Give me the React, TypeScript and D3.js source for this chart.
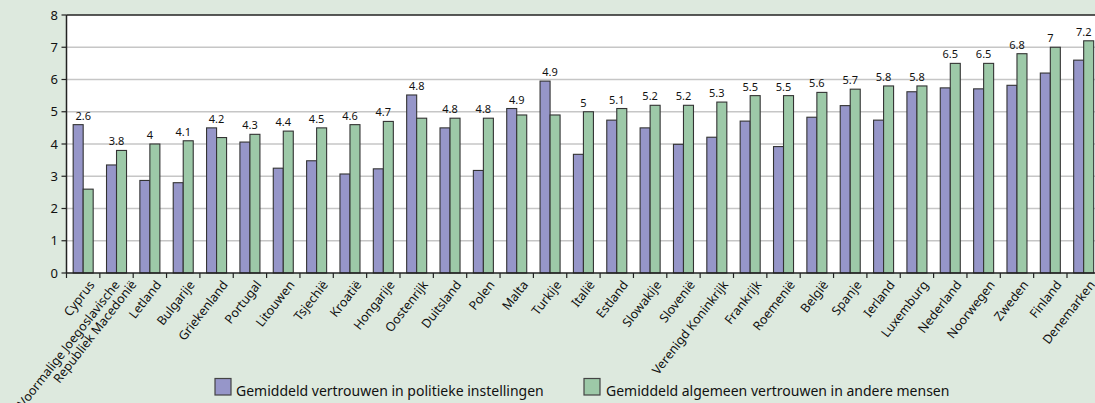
import React from "react";
import * as d3 from "d3";

const categories: string[][] = [
  ["Cyprus"],
  ["Voormalige Joegoslavische", "Republiek Macedonië"],
  ["Letland"],
  ["Bulgarije"],
  ["Griekenland"],
  ["Portugal"],
  ["Litouwen"],
  ["Tsjechië"],
  ["Kroatië"],
  ["Hongarije"],
  ["Oostenrijk"],
  ["Duitsland"],
  ["Polen"],
  ["Malta"],
  ["Turkije"],
  ["Italië"],
  ["Estland"],
  ["Slowakije"],
  ["Slovenië"],
  ["Verenigd Koninkrijk"],
  ["Frankrijk"],
  ["Roemenië"],
  ["België"],
  ["Spanje"],
  ["Ierland"],
  ["Luxemburg"],
  ["Nederland"],
  ["Noorwegen"],
  ["Zweden"],
  ["Finland"],
  ["Denemarken"],
];

const politiek: number[] = [
  4.6, 3.35, 2.87, 2.8, 4.5, 4.06, 3.25, 3.48, 3.07, 3.23, 5.52, 4.5, 3.18, 5.1,
  5.95, 3.68, 4.74, 4.5, 3.99, 4.21, 4.71, 3.92, 4.83, 5.19, 4.74, 5.62, 5.74,
  5.71, 5.82, 6.2, 6.6,
];

const anderen: number[] = [
  2.6, 3.8, 4, 4.1, 4.2, 4.3, 4.4, 4.5, 4.6, 4.7, 4.8, 4.8, 4.8, 4.9, 4.9, 5,
  5.1, 5.2, 5.2, 5.3, 5.5, 5.5, 5.6, 5.7, 5.8, 5.8, 6.5, 6.5, 6.8, 7, 7.2,
];

const yTicks: number[] = [0, 1, 2, 3, 4, 5, 6, 7, 8];

const legendLabels: string[] = [
  "Gemiddeld vertrouwen in politieke instellingen",
  "Gemiddeld algemeen vertrouwen in andere mensen",
];

const W = 1095;
const H = 403;
const FONT = "'Noto Sans', 'Open Sans', sans-serif";
const PURPLE = "#9696c9";
const GREEN = "#9dc9a8";
const BG = "#dde9de";

export default function App() {
  const left = 66.5;
  const top = 15;
  const bottom = 273;
  const keys = categories.map((c) => c.join(" "));
  const x = d3
    .scaleBand<string>()
    .domain(keys)
    .range([left, left + 31 * 33.35])
    .padding(0);
  const y = d3.scaleLinear().domain([0, 8]).range([bottom, top]);
  const bw = x.bandwidth();
  const barW = bw * 0.3;

  return (
    <svg
      width={W}
      height={H}
      style={{ position: "absolute", left: 0, top: 0, display: "block" }}
      fontFamily={FONT}
    >
      <rect x={0} y={0} width={W} height={H} fill={BG} />
      <rect x={left} y={top} width={W - left} height={bottom - top} fill="#fff" />
      {yTicks.map((t) => (
        <g key={t}>
          {t > 0 && t < 8 && (
            <line x1={left} x2={W} y1={y(t)} y2={y(t)} stroke="#c6c6c6" strokeWidth={1.5} />
          )}
          <line x1={left - 5} x2={left} y1={y(t)} y2={y(t)} stroke="#222" strokeWidth={1.2} />
          <text x={left - 8.5} y={y(t)} dy="0.36em" textAnchor="end" fontSize={13} fill="#111">
            {t}
          </text>
        </g>
      ))}
      <line x1={left} x2={W} y1={top} y2={top} stroke="#222" strokeWidth={1.5} />
      {keys.map((k, i) => {
        const x0 = x(k)!;
        const pv = politiek[i];
        const gv = anderen[i];
        const mx = Math.max(pv, gv);
        const cx = x0 + bw / 2;
        return (
          <g key={k}>
            <rect
              x={x0 + bw * 0.2}
              y={y(pv)}
              width={barW}
              height={bottom - y(pv)}
              fill={PURPLE}
              stroke="#333"
              strokeWidth={1.1}
            />
            <rect
              x={x0 + bw * 0.5}
              y={y(gv)}
              width={barW}
              height={bottom - y(gv)}
              fill={GREEN}
              stroke="#333"
              strokeWidth={1.1}
            />
            <text x={cx} y={y(mx) - 5} textAnchor="middle" fontSize={11} fill="#111">
              {gv}
            </text>
          </g>
        );
      })}
      <line x1={left} x2={left} y1={top} y2={bottom} stroke="#222" strokeWidth={1.5} />
      <line x1={left} x2={W} y1={bottom} y2={bottom} stroke="#222" strokeWidth={1.5} />
      {keys.map((k) => (
        <line
          key={"t" + k}
          x1={x(k)!}
          x2={x(k)!}
          y1={bottom}
          y2={bottom + 5}
          stroke="#222"
          strokeWidth={1.2}
        />
      ))}
      {categories.map((lines, i) => {
        const cx = x(keys[i])! + bw / 2 + 12;
        const cy = bottom + 12;
        const n = lines.length;
        return (
          <text
            key={"l" + i}
            transform={`translate(${cx},${cy}) rotate(-52)`}
            textAnchor="end"
            fontSize={12.5}
            fill="#111"
          >
            {lines.map((ln, j) => (
              <tspan
                key={j}
                x={n > 1 ? (j === 0 ? -5 : 5.5) : 0}
                y={n > 1 ? (j === 0 ? -6.5 : 6.5) : 0}
              >
                {ln}
              </tspan>
            ))}
          </text>
        );
      })}
      <rect x={215} y={378.5} width={16} height={16.5} fill={PURPLE} stroke="#444" strokeWidth={1.2} />
      <text x={236} y={396} fontSize={14} fill="#111">
        {legendLabels[0]}
      </text>
      <rect x={584} y={378.5} width={16} height={16.5} fill={GREEN} stroke="#444" strokeWidth={1.2} />
      <text x={606} y={396} fontSize={14} fill="#111">
        {legendLabels[1]}
      </text>
    </svg>
  );
}
